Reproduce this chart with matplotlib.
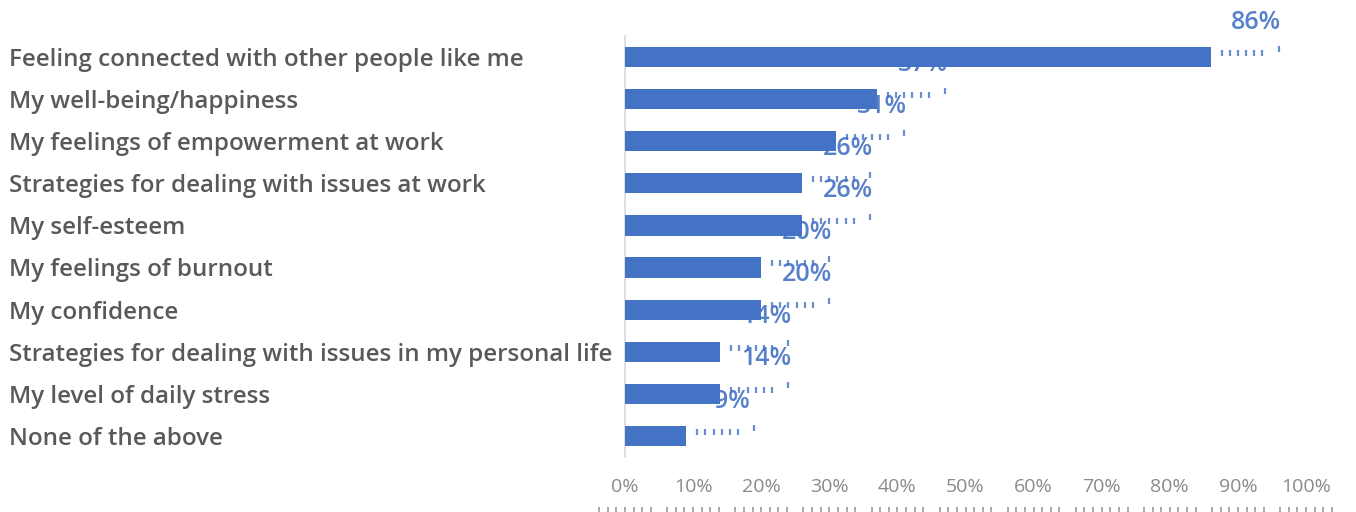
import numpy as np
import matplotlib.pyplot as plt
from matplotlib import transforms

categories = [
    "Feeling connected with other people like me",
    "My well-being/happiness",
    "My feelings of empowerment at work",
    "Strategies for dealing with issues at work",
    "My self-esteem",
    "My feelings of burnout",
    "My confidence",
    "Strategies for dealing with issues in my personal life",
    "My level of daily stress",
    "None of the above",
]
values = [86, 37, 31, 26, 26, 20, 20, 14, 14, 9]
xticks = [0, 10, 20, 30, 40, 50, 60, 70, 80, 90, 100]

BLUE = "#4472C4"
GRAY = "#595959"
FONTS = ["Open Sans", "DejaVu Sans"]

fig = plt.figure(figsize=(13.56, 5.12), dpi=100)
ax = fig.add_axes([625 / 1356, 1 - 457 / 512, 681 / 1356, 421 / 512])

y = np.arange(len(categories))
ax.barh(y, values, height=0.48, color=BLUE, zorder=3)

# data labels sit up and to the right of each bar, partly behind the bars
for yi, v in zip(y, values):
    ax.text(v + 6.7, yi - 0.83, f"{v}%", ha="center", va="center",
            color=BLUE, fontsize=18, fontweight="semibold",
            family=FONTS, zorder=2, alpha=0.9)
    xs = np.linspace(v + 1.6, v + 8.8, 7)
    ax.plot(xs[:-1], [yi - 0.1] * 6, ls="none", marker="|", ms=5, mew=1.6,
            color=BLUE, alpha=0.8, zorder=2, clip_on=False)
    ax.plot([xs[-1] + 1.2], [yi - 0.2], ls="none", marker="|", ms=5,
            mew=1.6, color=BLUE, alpha=0.8, zorder=2, clip_on=False)

ax.set_ylim(len(categories) - 0.5, -0.5)
ax.set_xlim(0, 100)

# category names start at the left edge of the figure
ax.set_yticks([])
label_trans = transforms.blended_transform_factory(fig.transFigure, ax.transData)
for yi, name in zip(y, categories):
    ax.text(9 / 1356, yi + 0.07, name, transform=label_trans, ha="left",
            va="center", fontsize=17.4, color=GRAY, fontweight="semibold",
            family=FONTS, clip_on=False)

ax.set_xticks(xticks)
ax.set_xticklabels([f"{t}%" for t in xticks], fontsize=14, color="#8a8a8a",
                   family=FONTS)
ax.tick_params(axis="x", length=0, pad=15)

for side in ["top", "right", "bottom"]:
    ax.spines[side].set_visible(False)
ax.spines["left"].set_color("#d9d9d9")
ax.spines["left"].set_linewidth(1.2)

# faint dotted marks under the percentage ticks
trans = ax.get_xaxis_transform()
for t in xticks:
    ax.plot(np.linspace(t - 3.8, t + 3.8, 7), [-0.125] * 7, ls="none",
            marker="|", ms=4, mew=1.2, color="#9a9a9a", transform=trans,
            clip_on=False)

fig.savefig("out.png", dpi=100)
